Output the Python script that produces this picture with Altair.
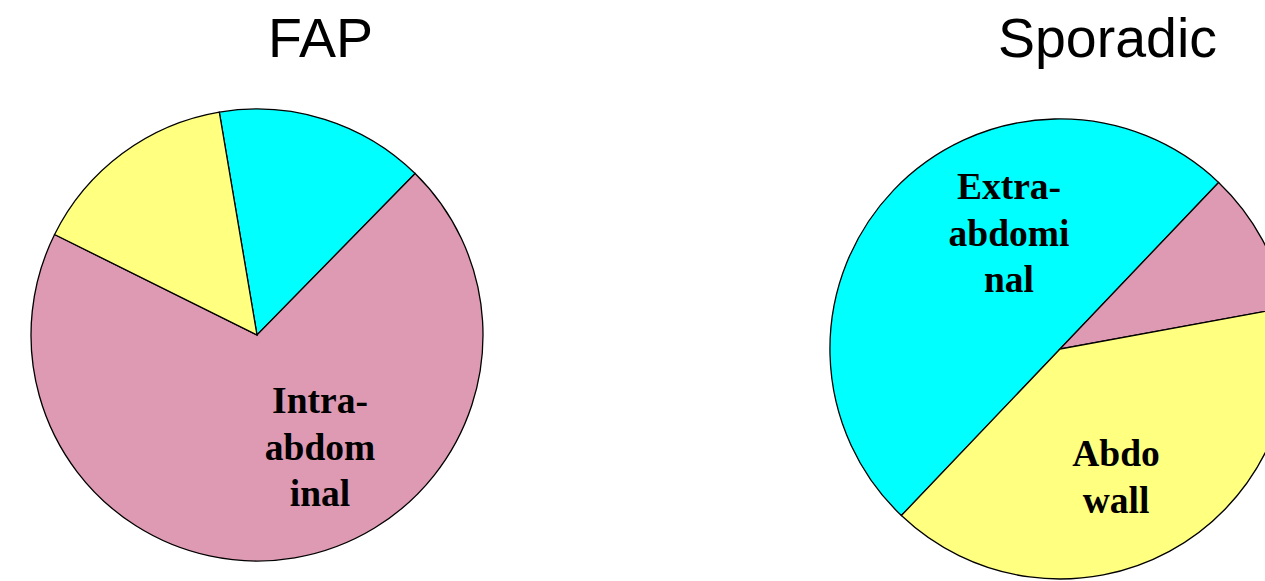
import math
import altair as alt
import pandas as pd

# ---- data ----
segments = ["Extra-abdominal", "Intra-abdominal", "Abdominal wall"]
seg_colors = ["#00FFFF", "#DE9AB3", "#FFFF80"]
order_idx = [0, 1, 2]
fap_values = [15, 70, 15]
sporadic_values = [50, 10, 40]
pie_titles = ["FAP", "Sporadic"]
fap_labels = ["Intra-\nabdom\ninal"]
sporadic_labels = ["Extra-\nabdomi\nnal", "Abdo\nwall"]

color_scale = alt.Scale(domain=segments, range=seg_colors)


def pie(values, start_deg, radius, cx, cy):
    df = pd.DataFrame({"segment": segments, "value": values, "idx": order_idx})
    s = math.radians(start_deg)
    return alt.Chart(df).mark_arc(
        radius=radius, stroke="black", strokeWidth=1.3, clip=True
    ).encode(
        theta=alt.Theta("value:Q", stack=True,
                        scale=alt.Scale(domain=[0, 100], range=[s, s + 2 * math.pi])),
        color=alt.Color("segment:N", scale=color_scale, legend=None),
        order=alt.Order("idx:Q"),
        x=alt.value(cx),
        y=alt.value(cy),
    )


def label(text, cx, cy):
    df = pd.DataFrame({"label": [text]})
    return alt.Chart(df).mark_text(
        font="Liberation Serif", fontWeight="bold", fontSize=37.5,
        lineBreak="\n", lineHeight=46.7, align="center", baseline="alphabetic",
        color="black",
    ).encode(text="label:N", x=alt.value(cx), y=alt.value(cy))


def title(text, cx, cy):
    df = pd.DataFrame({"t": [text]})
    return alt.Chart(df).mark_text(
        font="Liberation Sans", fontSize=55.5, align="center",
        baseline="alphabetic", color="black",
    ).encode(text="t:N", x=alt.value(cx), y=alt.value(cy))


chart = alt.layer(
    pie(fap_values, -9.6, 226, 257, 335),
    pie(sporadic_values, 223.6, 230, 1060, 349),
    label(fap_labels[0], 320, 413),
    label(sporadic_labels[0], 1009, 199),
    label(sporadic_labels[1], 1116, 466),
    title(pie_titles[0], 320.5, 57),
    title(pie_titles[1], 1107.5, 57),
).resolve_scale(theta="independent").properties(
    width=1265, height=581,
    autosize=alt.AutoSizeParams(type="none"),
    padding=0,
).configure_view(stroke=None)

chart.save("out.html", embed_options={"renderer": "svg", "actions": False})
